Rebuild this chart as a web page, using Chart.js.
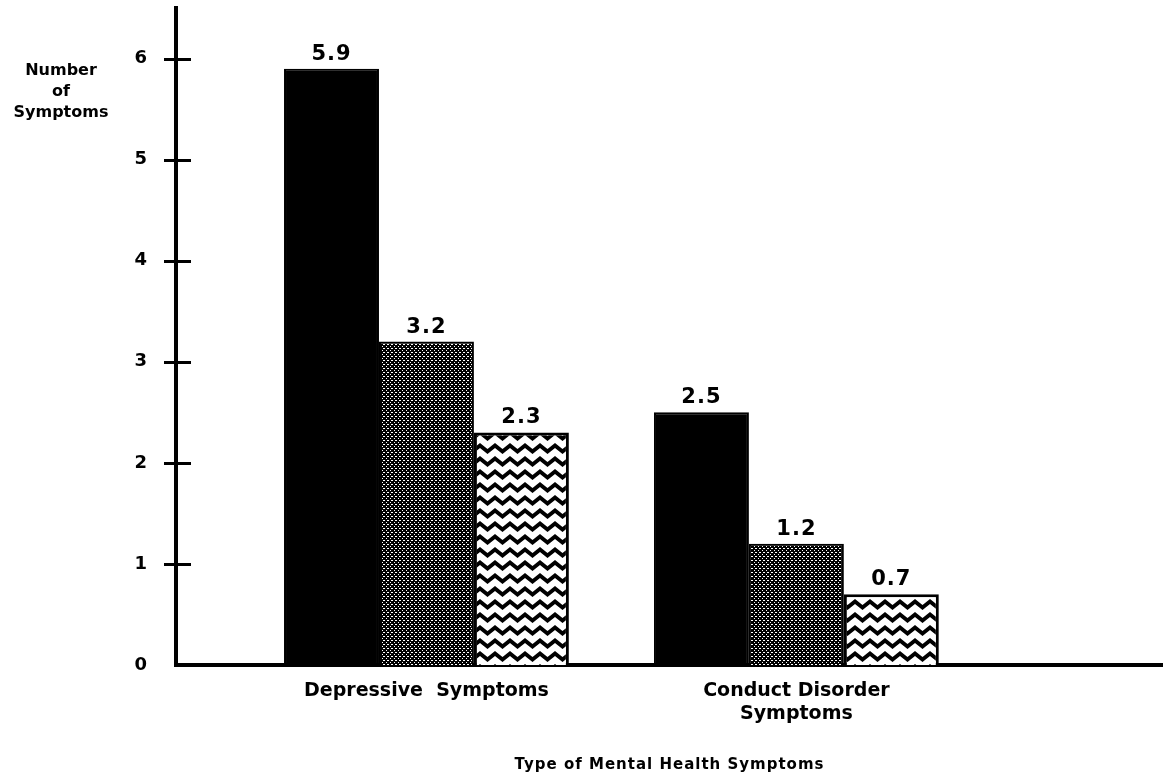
<!DOCTYPE html>
<html>
<head>
<meta charset="utf-8">
<script src="https://cdn.jsdelivr.net/npm/chart.js@4"></script>
<style>
  html, body { margin: 0; padding: 0; background: #fff; }
  #wrap { width: 1163px; height: 780px; }
</style>
</head>
<body>
<div id="wrap"><canvas id="myChart" width="1163" height="780"></canvas></div>
<script>
const categories = [['Depressive  Symptoms'], ['Conduct Disorder', 'Symptoms']];
const categoryPos = [1, 2];
const seriesNames = ['Series A', 'Series B', 'Series C'];
const seriesA = [5.9, 2.5];
const seriesB = [3.2, 1.2];
const seriesC = [2.3, 0.7];
const yTicks = [0, 1, 2, 3, 4, 5, 6];
const yAxisTitle = ['Number', 'of', 'Symptoms'];
const xAxisTitle = 'Type of Mental Health Symptoms';

const FONT = "'DejaVu Sans', sans-serif";

// fill patterns
const makeStipple = () => {
    const c = document.createElement('canvas');
    c.width = 4; c.height = 4;
    const g = c.getContext('2d');
    g.fillStyle = '#000';
    g.fillRect(0, 0, 4, 4);
    g.fillStyle = '#fff';
    g.fillRect(0, 0, 1, 1);
    g.fillRect(2, 2, 1, 1);
    g.fillRect(3, 0, 1, 1);
    return g.createPattern(c, 'repeat');
};

const makeWave = () => {
    const c = document.createElement('canvas');
    c.width = 15; c.height = 13;
    const g = c.getContext('2d');
    g.fillStyle = '#fff';
    g.fillRect(0, 0, 15, 13);
    g.strokeStyle = '#000';
    g.lineWidth = 4;
    g.lineJoin = 'miter';
    g.beginPath();
    g.moveTo(-7.5, 9.5);
    g.lineTo(0, 3.5);
    g.lineTo(7.5, 9.5);
    g.lineTo(15, 3.5);
    g.lineTo(22.5, 9.5);
    g.stroke();
    return g.createPattern(c, 'repeat');
};

const toPoints = vals => vals.map((v, i) => ({ x: categoryPos[i], y: v }));

const extras = {
    id: 'extras',
    afterDraw(chart) {
        const ctx = chart.ctx;
        const area = chart.chartArea;
        const y = chart.scales.y;
        ctx.save();
        // tick crosses on y axis
        ctx.strokeStyle = '#000';
        ctx.lineWidth = 3;
        yTicks.forEach(t => {
            if (t === 0) return;
            const py = Math.round(y.getPixelForValue(t)) + 0.5;
            ctx.beginPath();
            ctx.moveTo(area.left - 12, py);
            ctx.lineTo(area.left + 15, py);
            ctx.stroke();
        });
        // y title
        ctx.fillStyle = '#000';
        ctx.textAlign = 'center';
        ctx.textBaseline = 'alphabetic';
        ctx.font = 'bold 16px ' + FONT;
        yAxisTitle.forEach((s, i) => ctx.fillText(s, 61, 75 + i * 21));
        // x title
        ctx.font = 'bold 15px ' + FONT;
        ctx.letterSpacing = '1px';
        ctx.fillText(xAxisTitle, (area.left + area.right) / 2, 769);
        ctx.restore();
    },
    afterDatasetsDraw(chart) {
        const ctx = chart.ctx;
        ctx.save();
        ctx.fillStyle = '#000';
        ctx.font = 'bold 21px ' + FONT;
        ctx.textAlign = 'center';
        ctx.textBaseline = 'bottom';
        ctx.letterSpacing = '1px';
        chart.data.datasets.forEach((ds, i) => {
            chart.getDatasetMeta(i).data.forEach((bar, j) => {
                ctx.fillText(ds.data[j].y.toFixed(1), bar.x, bar.y - 4);
            });
        });
        ctx.restore();
    }
};

const ctx = document.querySelector('#myChart').getContext('2d');
const config = {
    type: 'bar',
    data: {
        datasets: [{
            label: seriesNames[0],
            data: toPoints(seriesA),
            backgroundColor: '#000',
            borderColor: '#000',
            borderWidth: 2
        }, {
            label: seriesNames[1],
            data: toPoints(seriesB),
            backgroundColor: makeStipple(),
            borderColor: '#000',
            borderWidth: 2
        }, {
            label: seriesNames[2],
            data: toPoints(seriesC),
            backgroundColor: makeWave(),
            borderColor: '#000',
            borderWidth: 3
        }]
    },
    options: {
        responsive: false,
        animation: false,
        categoryPercentage: 0.77,
        barPercentage: 1,
        layout: { padding: { top: 8, right: 0, left: 0, bottom: 0 } },
        plugins: {
            legend: { display: false },
            tooltip: { enabled: false }
        },
        scales: {
            x: {
                type: 'linear',
                offset: false,
                min: 0.323,
                max: 2.991,
                afterBuildTicks: scale => { scale.ticks = categoryPos.map(v => ({ value: v })); },
                afterFit: scale => {
                    scale.height = 115;
                    scale.paddingLeft = 0;
                    scale.paddingRight = 0;
                },
                grid: { display: false, drawTicks: false, offset: false },
                border: { display: true, color: '#000', width: 4 },
                ticks: {
                    padding: 15,
                    color: '#000',
                    maxRotation: 0,
                    autoSkip: false,
                    font: { family: FONT, size: 19, weight: 'bold' },
                    callback: v => categories[categoryPos.indexOf(v)] || ''
                }
            },
            y: {
                min: 0,
                max: 6.5,
                afterBuildTicks: scale => { scale.ticks = yTicks.map(v => ({ value: v })); },
                afterFit: scale => {
                    scale.width = 176;
                    scale.paddingTop = 0;
                    scale.paddingBottom = 0;
                },
                grid: { display: false, drawTicks: false },
                border: { display: true, color: '#000', width: 4 },
                ticks: {
                    padding: 29,
                    color: '#000',
                    font: { family: FONT, size: 18, weight: 'bold' }
                }
            }
        }
    },
    plugins: [extras]
};
new Chart(ctx, config);
</script>
</body>
</html>
